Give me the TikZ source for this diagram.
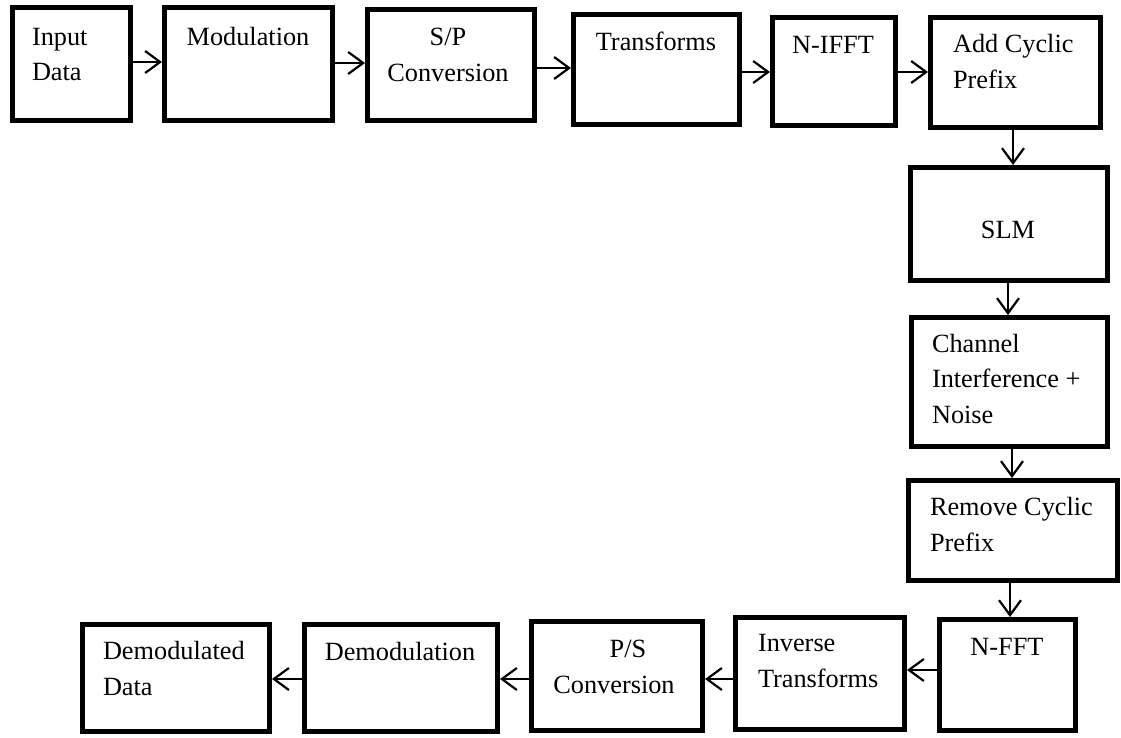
\documentclass[tikz,border=0pt]{standalone}
\usepackage{fontspec}
\setmainfont{Liberation Serif}
\usetikzlibrary{arrows.meta}

% block by its outer corners: name, x1, y1, x2, y2
\newcommand{\blk}[5]{%
  \node[box, minimum width={(#4)-(#2)-5}, minimum height={(#5)-(#3)-5}]
    (#1) at ({((#2)+(#4))/2},{((#3)+(#5))/2}) {};}

\begin{document}
\begin{tikzpicture}[x=1pt, y=-1pt,
  font=\fontsize{26.3}{35.5}\selectfont,
  box/.style={draw, line width=5pt, rectangle, inner sep=0pt},
  lbl/.style={inner sep=0pt, outer sep=0pt},
  % multi-line labels are placed by the baseline of their last line
  lbll/.style={lbl, align=left, anchor=base west},
  lblc/.style={lbl, align=center, anchor=base},
  arr/.style={line width=2.2pt, -{Straight Barb[length=15pt, width=22pt, line width=2.2pt]}}]
\useasboundingbox (0,0) rectangle (1121,737);

% transmitter row
\blk{in}{10}{5}{133}{123}
\blk{mod}{162}{5}{335}{123}
\blk{sp}{365}{7}{537}{123}
\blk{tr}{571}{12}{742}{127}
\blk{ifft}{770}{15}{898}{128}
\blk{acp}{928}{15}{1103}{130}

% right column
\blk{slm}{908}{165}{1110}{283}
\blk{ch}{909}{315}{1110}{449}
\blk{rcp}{906}{478}{1120}{583}

% receiver row
\blk{fft}{937}{617}{1078}{733}
\blk{inv}{733}{615}{907}{732}
\blk{ps}{529}{619}{705}{733}
\blk{dem}{302}{622}{500}{734}
\blk{dd}{80}{622}{272}{734}

% labels
\node[lbll] (t-in) at (32,80.5) {Input\\Data};
\node[lblc] (t-mod) at (248,45) {Modulation};
\node[lblc] (t-sp) at (448,81) {S/P\\Conversion};
\node[lblc] (t-tr) at (656,50) {Transforms};
\node[lblc] (t-ifft) at (833,53) {N-IFFT};
\node[lbll] (t-acp) at (953,88) {Add Cyclic\\Prefix};
\node[lblc] (t-slm) at (1008,238) {SLM};
\node[lbll] (t-ch) at (932,423) {Channel\\Interference +\\Noise};
\node[lbll] (t-rcp) at (930,551) {Remove Cyclic\\Prefix};
\node[lblc] (t-fft) at (1007,655) {N-FFT};
\node[lbll] (t-inv) at (758,687) {Inverse\\Transforms};
\node[lblc] (t-ps) at (614,693) {\hspace*{28pt}P/S\\Conversion};
\node[lblc] (t-dem) at (400,660) {Demodulation};
\node[lbll] (t-dd) at (103,695) {Demodulated\\Data};

% connectors
\draw[arr] (in.east |- 0,62) -- (mod.west |- 0,62);
\draw[arr] (mod.east |- 0,63) -- (sp.west |- 0,63);
\draw[arr] (sp.east |- 0,68) -- (tr.west |- 0,68);
\draw[arr] (tr.east |- 0,72) -- (ifft.west |- 0,72);
\draw[arr] (ifft.east |- 0,72) -- (acp.west |- 0,72);
\draw[arr] (acp.south -| 1013,0) -- (slm.north -| 1013,0);
\draw[arr] (slm.south -| 1008,0) -- (ch.north -| 1008,0);
\draw[arr] (ch.south -| 1012,0) -- (rcp.north -| 1012,0);
\draw[arr] (rcp.south -| 1010,0) -- (fft.north -| 1010,0);
\draw[arr] (fft.west |- 0,670) -- (inv.east |- 0,670);
\draw[arr] (inv.west |- 0,679) -- (ps.east |- 0,679);
\draw[arr] (ps.west |- 0,679) -- (dem.east |- 0,679);
\draw[arr] (dem.west |- 0,679) -- (dd.east |- 0,679);
\end{tikzpicture}
\end{document}
